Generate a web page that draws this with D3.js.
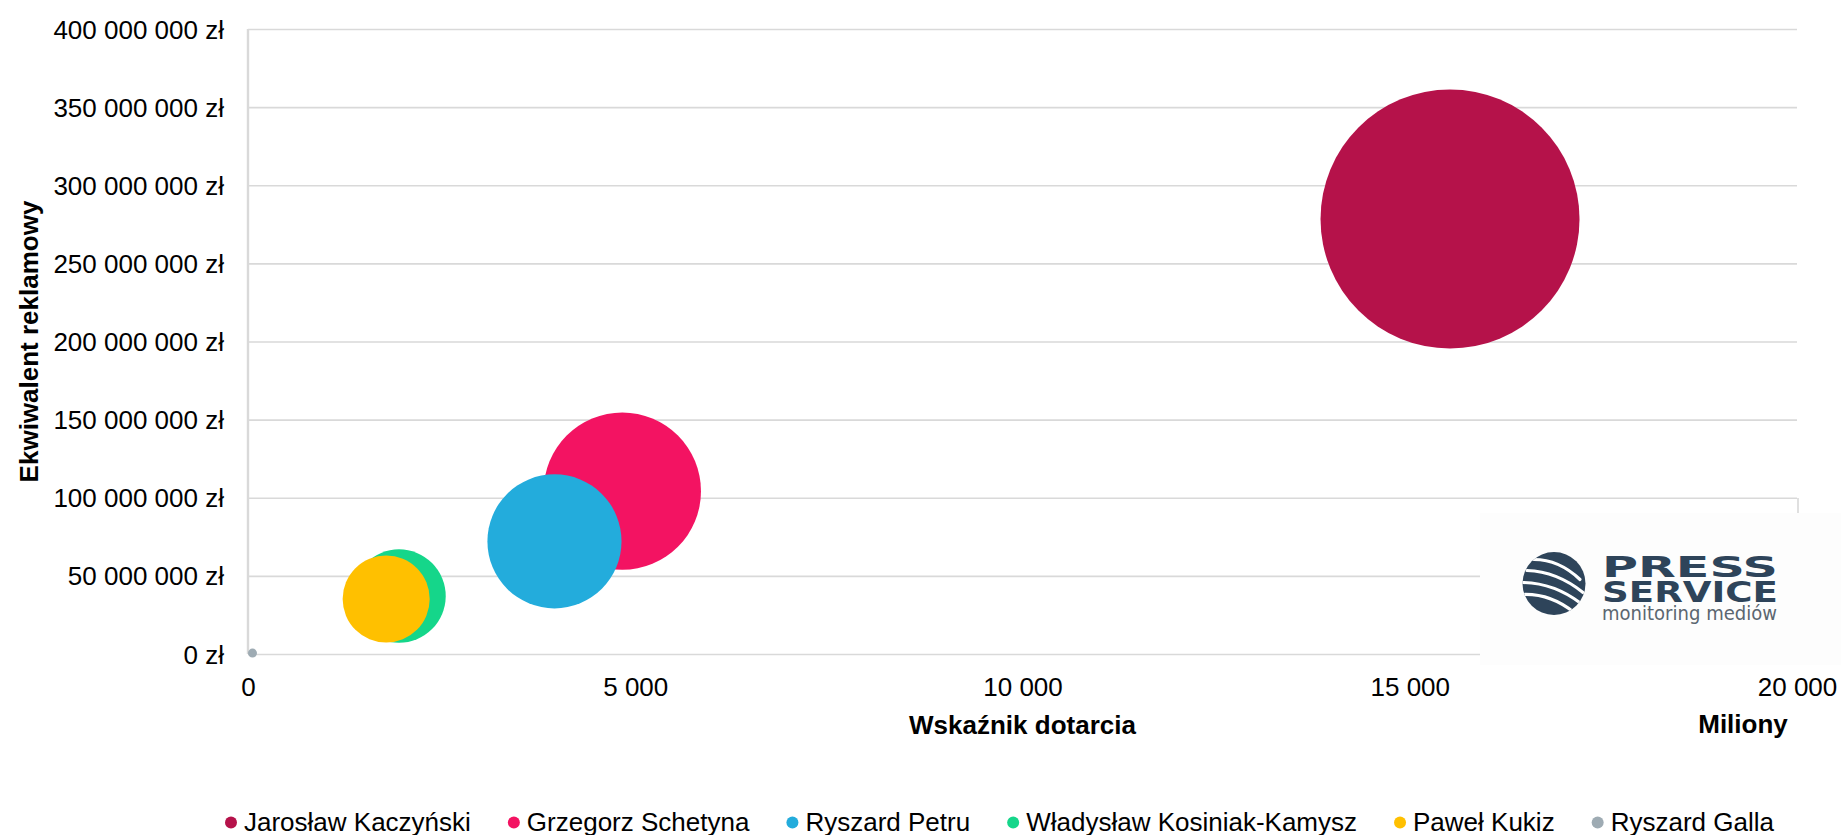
<!DOCTYPE html>
<html>
<head>
<meta charset="utf-8">
<script src="https://cdn.jsdelivr.net/npm/d3@7"></script>
<style>
  html, body { margin: 0; padding: 0; background: #ffffff; }
  svg { display: block; font-family: "Liberation Sans", Arial, sans-serif; }
</style>
</head>
<body>
<svg id="chart" width="1841" height="835"></svg>
<script>
// ---- data ----
const candidates = ["Jarosław Kaczyński", "Grzegorz Schetyna", "Ryszard Petru", "Władysław Kosiniak-Kamysz", "Paweł Kukiz", "Ryszard Galla"];
const reach = [15520, 4833, 3957, 1950, 1784, 58];               // Wskaźnik dotarcia (miliony)
const adValue = [278400000, 104200000, 72100000, 37100000, 35200000, 600000]; // Ekwiwalent reklamowy (zł)
const bubbleSize = [100, 36.9, 26.8, 13.0, 11.3, 0.12];
const colors = ["#b5124a", "#f31362", "#23acdc", "#15d68a", "#ffc000", "#9eabb3"];
const xTicks = [0, 5000, 10000, 15000, 20000];
const yTicks = [0, 50000000, 100000000, 150000000, 200000000, 250000000, 300000000, 350000000, 400000000];

(function () {
const svg = d3.select("#chart");
const pL = 248, pR = 1797, pT = 29, pB = 654;
const x = d3.scaleLinear().domain([0, 20000]).range([pL, pR]);
const y = d3.scaleLinear().domain([0, 400000000]).range([pB, pT]);
const r = d3.scaleSqrt().domain([0, d3.max(bubbleSize)]).range([0, 129.5]);

const fmt = v => d3.format(",")(v).replace(/,/g, " ");
const grid = "#d9d9d9";
const ff = "'Liberation Sans', Arial, sans-serif";

// gridlines + y labels
const gy = svg.append("g").attr("transform", `translate(${pL},0)`)
  .call(d3.axisLeft(y).tickValues(yTicks).tickSize(-(pR - pL)).tickFormat(d => fmt(d) + " zł").tickPadding(24));
gy.select(".domain").remove();
gy.selectAll(".tick line").attr("stroke", grid).attr("stroke-width", 1.6);
gy.selectAll(".tick text").attr("font-size", 26).attr("fill", "#000").attr("dy", "0.35em").attr("font-family", ff);

// vertical axis line
svg.append("line").attr("x1", pL).attr("x2", pL).attr("y1", pT).attr("y2", pB)
  .attr("stroke", grid).attr("stroke-width", 2.4);

// x axis labels
const gx = svg.append("g").attr("transform", `translate(0,${pB})`)
  .call(d3.axisBottom(x).tickValues(xTicks).tickSize(0).tickFormat(fmt));
gx.select(".domain").remove();
gx.selectAll(".tick text").attr("font-size", 26).attr("fill", "#000").attr("y", 42).attr("dy", 0).attr("font-family", ff);

// bubbles
svg.append("g").selectAll("circle").data(candidates).join("circle")
  .attr("cx", (d, i) => x(reach[i]))
  .attr("cy", (d, i) => y(adValue[i]))
  .attr("r", (d, i) => Math.max(r(bubbleSize[i]), 4.5))
  .attr("fill", (d, i) => colors[i]);

// axis titles
svg.append("text").attr("x", (pL + pR) / 2).attr("y", 734).attr("text-anchor", "middle")
  .attr("font-size", 26).attr("font-weight", "bold").text("Wskaźnik dotarcia");
svg.append("text").attr("x", 1743).attr("y", 733).attr("text-anchor", "middle")
  .attr("font-size", 26).attr("font-weight", "bold").text("Miliony");
svg.append("text").attr("transform", `translate(38,${(pT + pB) / 2}) rotate(-90)`).attr("text-anchor", "middle")
  .attr("font-size", 26).attr("font-weight", "bold").text("Ekwiwalent reklamowy");

// logo box
const logo = svg.append("g");
logo.append("rect").attr("x", 1480).attr("y", 513).attr("width", 361).attr("height", 152).attr("fill", "#fdfdfd");
logo.append("line").attr("x1", 1798).attr("x2", 1798).attr("y1", 498).attr("y2", 513).attr("stroke", grid).attr("stroke-width", 1.6);
const lcx = 1554, lcy = 583.5, lr = 31.5;
svg.append("clipPath").attr("id", "lc").append("circle").attr("cx", lcx).attr("cy", lcy).attr("r", lr);
logo.append("circle").attr("cx", lcx).attr("cy", lcy).attr("r", lr).attr("fill", "#2e445a");
const stripes = [[-20, -24, 26, -4], [-27, -13, 29, 9], [-31, -1, 27, 20], [-31, 11, 20, 29]];
logo.append("g").attr("clip-path", "url(#lc)").selectAll("path").data(stripes).join("path")
  .attr("d", s => `M${lcx + s[0]},${lcy + s[1]} Q${lcx + (s[0] + s[2]) / 2 + 2},${lcy + (s[1] + s[3]) / 2 - 10} ${lcx + s[2]},${lcy + s[3]}`)
  .attr("fill", "none").attr("stroke", "#ffffff").attr("stroke-width", 3.2).attr("stroke-linecap", "round");
logo.append("text").attr("x", 1602).attr("y", 577).attr("font-size", 28).attr("font-weight", 900)
  .attr("fill", "#2e445a").attr("textLength", 176).attr("lengthAdjust", "spacingAndGlyphs")
  .attr("font-family", "'DejaVu Sans', sans-serif").text("PRESS");
logo.append("text").attr("x", 1602).attr("y", 602).attr("font-size", 28).attr("font-weight", 900)
  .attr("fill", "#2e445a").attr("textLength", 176).attr("lengthAdjust", "spacingAndGlyphs")
  .attr("font-family", "'DejaVu Sans', sans-serif").text("SERVICE");
logo.append("text").attr("x", 1602).attr("y", 620).attr("font-size", 19)
  .attr("fill", "#5b6670").attr("textLength", 175).attr("lengthAdjust", "spacingAndGlyphs")
  .attr("font-family", "'DejaVu Sans', sans-serif").text("monitoring mediów");

// legend
const leg = svg.append("g");
let lx = 225;
candidates.forEach((name, i) => {
  leg.append("circle").attr("cx", lx + 6).attr("cy", 822.5).attr("r", 6).attr("fill", colors[i]);
  const t = leg.append("text").attr("x", lx + 19).attr("y", 831).attr("font-size", 26).attr("fill", "#000").text(name);
  lx += 19 + t.node().getComputedTextLength() + 37;
});
})();
</script>
</body>
</html>
